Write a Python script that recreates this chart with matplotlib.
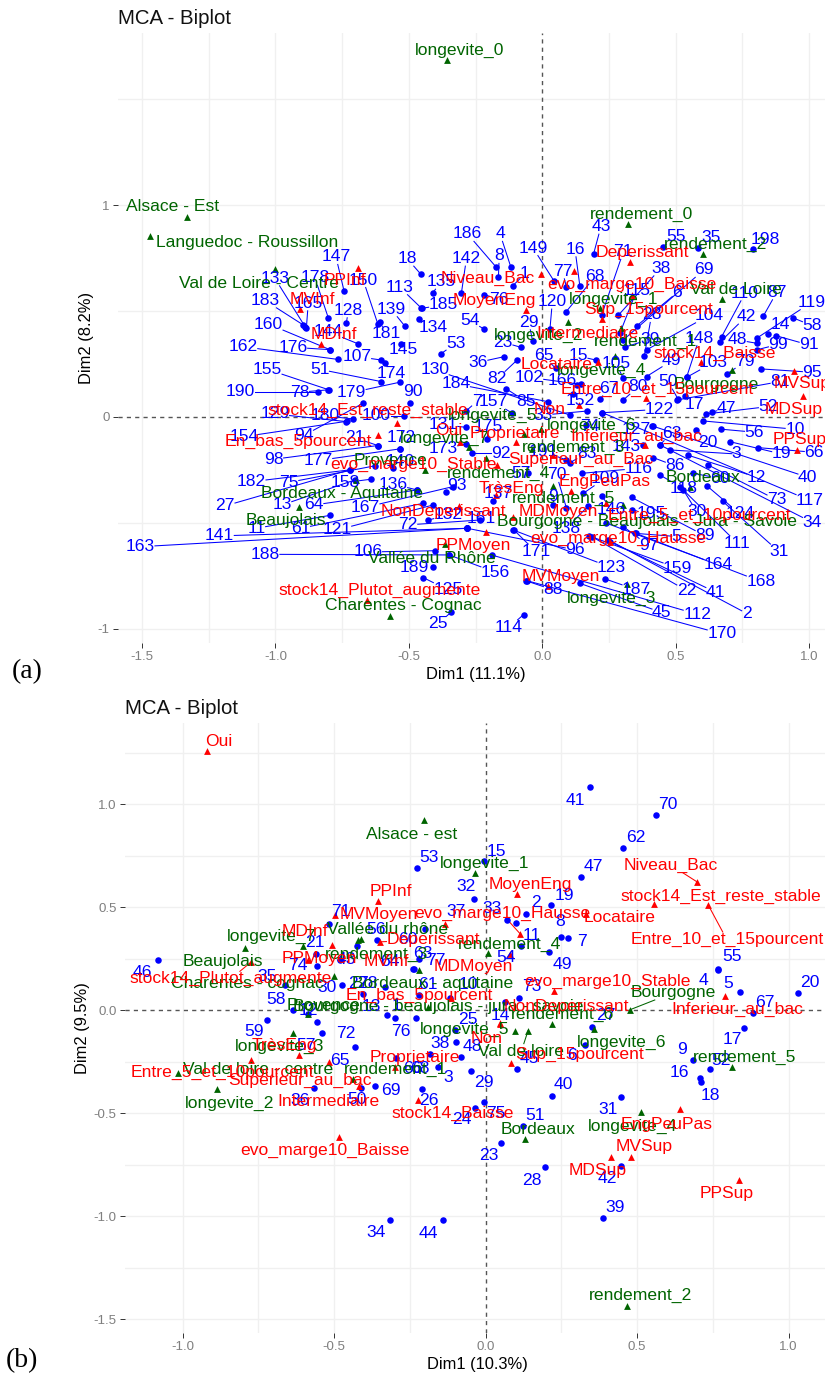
import matplotlib
matplotlib.use("Agg")
import matplotlib.pyplot as plt

# ---- panel (a) individuals: point then label position, data units
ind_a_names = ['147','150','133','178','183','165','128','160','139','113',
    '18','181','144','186','4','8','142','1','135','76',
    '149','77','16','43','68','120','29','54','23','53',
    '134','185','55','35','198','71','38','115','6','69',
    '28','110','87','42','104','119','14','58','148','48',
    '99','91','39','36','82','65','15','105','49','103',
    '79','102','166','130','184','7','157','85','33','152',
    '67','80','50','122','17','47','52','10','56','19',
    '66','3','20','40','117','12','73','34','86','118',
    '60','30','124','111','31','89','195','5','97','164',
    '168','159','123','22','41','2','112','187','45','170',
    '88','114','25','125','189','156','171','96','138','146',
    '161','137','93','92','173','131','175','9','70','57',
    '109','116','83','191','74','127','63','143','81','95',
    '132','162','176','107','145','51','174','155','190','78',
    '179','90','129','180','100','154','94','21','172','98',
    '177','140','182','75','158','136','27','13','64','167',
    '11','61','121','72','141','163','188','106']
ind_a_x = [-.743,-.616,-.889,-.802,-.896,-.884,-.734,-.796,-.516,-.452,
    -.456,-.609,-.689,-.174,-.118,-.164,-.303,-.111,-.411,-.219,
    .044,.091,.141,.193,.089,.029,-.036,-.219,-.08,-.38,
    -.461,-.453,.451,.583,.791,.223,.285,.291,.355,.304,
    .383,.673,.829,.666,.391,.804,.848,.939,.541,.804,
    .804,.876,.31,-.142,-.094,.05,.2,.304,.391,.541,
    .691,.144,.129,.104,.022,-.284,-.115,-.134,.169,.116,
    .216,.304,.508,.226,.535,.635,.614,.604,.672,.704,
    .81,.479,.576,.414,.226,.545,.622,.441,.416,.441,
    .564,.529,.616,.516,.676,.335,.335,.349,.304,.241,
    .351,.176,-.109,.185,.254,.248,-.19,.235,.141,-.059,
    -.056,-.07,-.34,-.446,-.409,-.349,-.106,-.281,.173,.223,
    -.281,-.186,-.359,-.265,-.284,-.284,-.206,.041,.091,-.053,
    .154,.151,.104,.091,.166,.41,.441,.379,.504,.82,
    -.427,-.767,-.796,-.603,-.53,-.603,-.59,-.799,-.84,-.803,
    -.534,-.494,-.734,-.711,-.519,-.73,-.671,-.616,-.534,-.616,
    -.534,-.559,-.721,-.628,-.64,-.469,-.721,-.703,-.469,-.334,
    -.796,-.446,-.409,-.234,-.281,-.281,-.349,-.4]
ind_a_y = [.597,.439,.427,.469,.435,.419,.446,.318,.431,.513,
    .676,.45,.345,.71,.71,.663,.584,.619,.584,.578,
    .643,.613,.62,.772,.496,.414,.359,.416,.329,.298,
    .461,.513,.802,.8,.792,.482,.48,.395,.431,.364,
    .29,.38,.477,.353,.317,.372,.392,.469,.187,.348,
    .317,.384,.33,.285,.269,.23,.269,.183,.191,.187,
    .202,.154,.151,.009,.072,.03,.02,.132,.028,.109,
    .083,.08,.087,.02,.099,.024,.014,-.019,-.058,-.117,
    -.145,-.156,-.061,-.043,.02,-.18,-.227,-.132,-.192,-.274,
    -.266,-.345,-.324,-.329,-.398,-.38,-.439,-.55,-.518,-.502,
    -.55,-.562,-.534,-.565,-.589,-.581,-.652,-.765,-.786,-.773,
    -.776,-.934,-.92,-.759,-.707,-.652,-.534,-.526,-.42,-.373,
    -.526,-.397,-.353,-.172,-.128,-.049,-.106,-.416,-.431,-.266,
    -.361,-.266,-.216,-.203,-.038,-.043,-.132,-.132,.08,.227,
    -.487,.272,.318,.269,.345,.167,.257,.128,.12,.128,
    .164,.068,-.022,-.009,.005,-.02,.065,-.135,-.151,-.135,
    -.151,-.243,-.25,-.231,-.294,-.345,-.25,-.298,-.345,-.329,
    -.465,-.408,-.416,-.487,-.526,-.526,-.652,-.632]
ind_a_lx = [-.773,-.671,-1.002,-.852,-1.04,-.877,-.726,-1.026,-.566,-.534,
    -.506,-.584,-.803,-.28,-.158,-.161,-.284,-.065,-.38,-.161,
    -.034,.076,.123,.22,.198,.038,-.05,-.271,-.146,-.324,
    -.409,-.371,.501,.633,.836,.304,.444,.354,.506,.606,
    .41,.76,.879,.764,.626,1.01,.894,1.012,.589,.732,
    .885,1.0,.404,-.24,-.169,.006,.135,.276,.486,.641,
    .76,-.049,.076,-.403,-.324,-.246,-.184,-.059,.004,.141,
    .25,.36,.472,.439,.572,.691,.847,.947,.795,.897,
    1.019,.729,.622,.995,1.004,.804,.879,1.012,.498,.531,
    .666,.579,.741,.732,.887,.61,.41,.504,.4,.66,
    .82,.508,.26,.541,.65,.766,.581,.354,.448,.673,
    .041,-.124,-.39,-.353,-.478,-.175,-.024,.123,.091,.26,
    -.228,-.165,-.321,-.155,-.371,-.371,-.203,.041,.054,-.078,
    .235,.36,.166,.004,.179,.354,.485,.316,.891,1.012,
    -.352,-1.121,-.934,-.694,-.521,-.834,-.565,-1.03,-1.13,-.909,
    -.715,-.484,-1.002,-.815,-.621,-1.118,-.894,-.703,-.528,-1.006,
    -.84,-.534,-1.09,-.949,-.74,-.559,-1.188,-.975,-.855,-.663,
    -1.071,-.905,-.769,-.503,-1.209,-1.506,-1.038,-.653]
ind_a_ly = [.756,.647,.655,.658,.551,.537,.504,.439,.509,.613,
    .748,.392,.403,.865,.865,.761,.748,.676,.639,.557,
    .798,.688,.792,.899,.663,.545,.447,.455,.353,.348,
    .424,.529,.852,.849,.839,.78,.702,.597,.588,.695,
    .482,.584,.589,.474,.48,.542,.439,.431,.372,.364,
    .343,.34,.367,.258,.18,.288,.288,.254,.266,.257,
    .261,.187,.17,.222,.156,.072,.072,.072,.009,.08,
    .135,.143,.167,.036,.061,.038,.049,-.058,-.072,-.175,
    -.167,-.175,-.121,-.285,-.395,-.285,-.392,-.498,-.231,-.34,
    -.29,-.447,-.458,-.597,-.636,-.561,-.458,-.565,-.608,-.699,
    -.778,-.715,-.712,-.82,-.828,-.928,-.932,-.817,-.924,-1.025,
    -.817,-.994,-.978,-.817,-.71,-.734,-.636,-.628,-.526,-.439,
    -.482,-.361,-.324,-.172,-.151,-.038,-.043,-.376,-.274,-.266,
    -.29,-.243,-.172,-.164,-.043,-.061,-.077,-.14,.167,.211,
    -.463,.332,.329,.285,.317,.225,.203,.225,.12,.117,
    .115,.12,.014,.005,.005,-.093,-.088,-.098,-.098,-.2,
    -.206,-.211,-.306,-.309,-.31,-.317,-.42,-.416,-.416,-.427,
    -.526,-.526,-.534,-.51,-.562,-.613,-.649,-.638]

# ---- panel (a) variables
green_a_names = ['Alsace - Est','Languedoc - Roussillon','Val de Loire - Centre','longevite_0',
    'rendement_0','rendement_2','Val de Loire','longevite_1','longevite_2','rendement_1',
    'longevite_4','Bourgogne','longevite_5','longevite_6','longevite_7','Provence',
    'rendement_4','rendement_3','rendement_5','Bordeaux',
    'Bourgogne - Beaujolais - Jura - Savoie','Bordeaux - Aquitaine','Beaujolais',
    'Vallée du Rhône','Charentes - Cognac','longevite_3']
green_a_x = [-1.332,-1.469,-1.002,-.356,.322,.603,.675,.216,.098,.294,.273,.71,-.069,-.003,
    -.274,-.44,-.209,-.04,.039,.554,.304,-.911,-.699,-.365,-.569,.316]
green_a_y = [.946,.857,.698,1.687,.912,.769,.556,.513,.45,.419,.29,.222,-.082,-.058,
    -.14,-.25,-.195,-.153,-.324,-.329,-.416,-.427,-.298,-.6,-.939,-.791]
green_a_lx = [-1.386,-1.106,-1.061,-.311,.372,.651,.726,.266,-.015,.389,.223,.654,-.184,.185,
    -.365,-.569,-.165,.116,.081,.604,.394,-.752,-.959,-.412,-.522,.26]
green_a_ly = [.992,.825,.631,1.731,.956,.813,.603,.557,.387,.356,.222,.154,.005,-.038,
    -.101,-.206,-.266,-.143,-.387,-.285,-.494,-.361,-.491,-.668,-.893,-.857]

red_a_names = ['PPInf','MVInf','MDInf','Niveau_Bac','Deperissant','evo_marge10_Baisse','MoyenEng',
    'Sup_15pourcent','Intermediaire','Locataire','stock14_Baisse','Entre_10_et_15pourcent',
    'MVSup','MDSup','PPSup','Non','stock14_Est_reste_stable','En_bas_5pourcent','Oui',
    'Proprietaire','Inferieur_au_bac','Superieur_au_Bac','evo_marge10_Stable','EngPeuPas',
    'TrèsEng','NonDeperissant','MDMoyen','Entre_5_et_10pourcent','evo_marge10_Hausse',
    'PPMoyen','MVMoyen','stock14_Plutot_augmente']
red_a_x = [-.692,-.909,-.83,-.005,.329,.119,-.059,.335,.223,.21,.595,.389,.945,.976,.954,.139,
    -.544,-.616,-.309,-.1,.385,.041,-.169,.108,-.174,-.31,-.109,.239,.254,-.211,.022,-.656]
red_a_y = [.706,.512,.345,.676,.734,.69,.506,.576,.463,.258,.258,.088,.219,.099,-.156,.057,
    -.03,-.087,-.117,-.117,-.132,-.18,-.227,-.35,-.369,-.42,-.471,-.405,-.589,-.545,-.797,-.865]
red_a_lx = [-.74,-.862,-.78,-.203,.376,.338,-.181,.398,.17,.054,.648,.433,.973,.941,.966,.029,
    -.652,-.914,-.352,-.103,.354,.144,-.484,.233,-.115,-.369,.06,.591,.285,-.259,.07,-.609]
red_a_ly = [.644,.556,.391,.655,.778,.627,.548,.51,.392,.249,.301,.132,.156,.033,-.106,.036,
    .03,-.117,-.065,-.077,-.093,-.203,-.222,-.306,-.337,-.446,-.447,-.466,-.576,-.605,-.754,-.82]

# ---- panel (b) individuals
ind_b_names = ['41','70','62','47','15','53','32','19','2','33',
    '11','8','7','49','54','55','4','5','20','67',
    '37','73','10','61','63','77','14','27','25','17',
    '46','21','74','71','56','60','43','64','30','22',
    '35','58','12','59','72','57','76','1','78','13',
    '65','69','34','50','36','66','38','48','3','68',
    '45','6','9','52','16','18','29','26','40','31',
    '51','75','24','23','28','42','39','44']
ind_b_x = [.346,.562,.455,.315,-.005,-.227,-.038,.215,.134,.07,
    .101,.249,.271,.209,.118,.767,.767,.841,1.031,.881,
    -.201,.109,-.119,-.22,-.22,-.238,.063,.352,-.102,.853,
    -1.082,-.56,-.556,-.516,-.36,-.424,-.481,-.236,-.474,-.404,
    -.663,-.637,-.586,-.72,-.54,-.558,-.298,-.327,-.333,-.229,
    -.432,-.366,-.314,-.41,-.567,-.295,-.097,-.08,-.157,-.182,
    .103,.329,.684,.741,.708,.711,-.049,-.209,.219,.448,
    .125,-.005,-.034,.052,.197,.446,.389,-.141]
ind_b_y = [1.086,.947,.788,.646,.725,.693,.54,.51,.469,.437,
    .424,.356,.353,.282,.311,.202,.196,.089,.084,-.013,
    .396,.061,.061,.073,.251,.202,.04,-.081,-.097,-.086,
    .243,.275,.214,.421,.34,.311,.243,.199,.121,.078,
    .121,0,-.019,-.049,-.11,-.055,-.04,-.024,.113,-.036,
    -.178,-.369,-1.018,-.38,-.38,-.23,-.154,-.227,-.275,-.214,
    -.286,-.17,-.243,-.286,-.327,-.35,-.295,-.382,-.417,-.421,
    -.563,-.445,-.473,-.647,-.762,-.756,-1.01,-1.021]
ind_b_lx = [.296,.602,.497,.356,.037,-.187,-.064,.26,.167,.022,
    .153,.246,.318,.255,.068,.812,.72,.799,1.071,.923,
    -.097,.154,-.058,-.19,-.207,-.165,.048,.398,-.058,.813,
    -1.132,-.564,-.619,-.476,-.36,-.256,-.459,-.316,-.523,-.421,
    -.72,-.69,-.586,-.764,-.462,-.591,-.278,-.295,-.388,-.377,
    -.481,-.314,-.363,-.424,-.613,-.24,-.149,-.044,-.124,-.218,
    .145,.285,.647,.777,.64,.741,-.004,-.188,.258,.403,
    .164,.035,-.078,.011,.154,.401,.427,-.188]
ind_b_ly = [1.018,.998,.837,.697,.772,.741,.599,.558,.521,.494,
    .364,.432,.332,.222,.254,.262,.142,.129,.133,.036,
    .477,.113,.126,.126,.275,.239,-.024,-.024,-.045,-.142,
    .181,.328,.218,.477,.392,.343,.246,.235,.108,.129,
    .162,.052,-.003,-.105,-.113,-.17,-.102,.024,.129,.016,
    -.246,-.388,-1.079,-.432,-.44,-.283,-.162,-.178,-.328,-.283,
    -.234,-.218,-.189,-.246,-.301,-.413,-.353,-.44,-.361,-.482,
    -.513,-.502,-.531,-.708,-.825,-.817,-.958,-1.084]

# ---- panel (b) variables
green_b_names = ['Alsace - est','longevite_1','Vallée du rhône','rendement_3','rendement_4','longevite_7',
    'Beaujolais','Charentes - cognac','Bordeaux - aquitaine','Bourgogne','Provence',
    'Bourgogne - beaujolais - jura - savoie','longevite_5','rendement_6','Val de loire','longevite_6',
    'rendement_5','longevite_4','Bordeaux','rendement_2','longevite_3','rendement_1',
    'Val de loire - centre','longevite_2']
green_b_x = [-.202,-.036,-.41,-.42,.008,-.795,-.604,-.5,-.22,.478,-.586,-.19,.098,.22,.14,.359,
    .813,.513,.129,.467,-.635,-.437,-1.014,-.888]
green_b_y = [.926,.668,.348,.34,.28,.303,.312,.168,.197,.003,-.019,.016,-.1,-.065,-.1,-.089,
    -.275,-.494,-.626,-1.435,-.11,-.332,-.303,-.385]
green_b_lx = [-.245,-.003,-.325,-.36,.079,-.707,-.868,-.787,-.174,.621,-.536,-.157,-.069,.253,.118,.449,
    .854,.486,.173,.51,-.679,-.298,-.75,-.846]
green_b_ly = [.854,.712,.393,.272,.319,.359,.235,.129,.129,.086,.024,.016,-.092,-.019,-.199,-.157,
    -.23,-.563,-.58,-1.387,-.178,-.29,-.29,-.453]

red_b_names = ['Oui','PPInf','MDInf','MVMoyen','evo_marge10_Hausse','Deperissant','PPMoyen','MVInf',
    'stock14_Plutot_augmente','En_bas_5pourcent','MoyenEng','Niveau_Bac','stock14_Est_reste_stable',
    'Locataire','Entre_10_et_15pourcent','evo_marge10_Stable','MDMoyen','NonDeperissant',
    'Inferieur_au_bac','Non','Sup_15pourcent','Proprietaire','TrèsEng','Entre_5_et_10pourcent',
    'Superieur_au_bac','stock14_Baisse','Intermediaire','evo_marge10_Baisse','EngPeuPas','MVSup',
    'MDSup','PPSup']
red_b_x = [-.918,-.356,-.507,-.498,.114,-.349,-.586,-.135,-.773,-.115,.103,.698,.557,.332,.735,.227,
    .079,.046,.791,.046,.085,-.3,-.615,-.773,-.418,-.223,-.518,-.485,.642,.48,.415,.837]
red_b_y = [1.257,.531,.319,.46,.371,.332,.243,.417,.235,.061,.566,.623,.518,.466,.51,.092,
    .275,-.063,.07,-.065,-.256,-.275,-.218,-.24,-.369,-.434,-.25,-.615,-.482,-.711,-.712,-.827]
red_b_lx = [-.879,-.311,-.595,-.353,.054,-.173,-.549,-.327,-.841,-.219,.148,.612,.777,.442,.796,.403,
    -.04,.268,.832,.004,.31,-.232,-.663,-.868,-.613,-.108,-.52,-.531,.596,.522,.37,.797]
red_b_ly = [1.303,.578,.383,.464,.469,.343,.251,.235,.152,.073,.612,.704,.555,.448,.343,.142,
    .21,.019,.003,-.138,-.215,-.23,-.17,-.3,-.343,-.502,-.445,-.68,-.553,-.66,-.78,-.89]
red_b_linked = ['evo_marge10_Hausse','Deperissant','stock14_Plutot_augmente','Niveau_Bac',
    'Entre_10_et_15pourcent']
green_b_linked = ['Bourgogne','Val de loire']

BLUE = '#0000FF'
RED = '#FF0000'
GREEN = '#006400'
FW, FH = 825, 1374

plt.rcParams['font.family'] = ['Liberation Sans', 'DejaVu Sans']
fig = plt.figure(figsize=(FW / 100, FH / 100), dpi=100)


def link(ax, txt, px, py, color, min_px):
    # ggrepel style segment, from the edge of the label to its point
    box = txt.get_window_extent(fig.canvas.get_renderer())
    cx, cy = (box.x0 + box.x1) / 2, (box.y0 + box.y1) / 2
    x, y = ax.transData.transform((px, py))
    dx, dy = x - cx, y - cy
    t = 9.0
    if dx != 0:
        t = min(t, box.width / 2 / abs(dx))
    if dy != 0:
        t = min(t, box.height / 2 / abs(dy))
    if t >= 1 or (1 - t) * (dx ** 2 + dy ** 2) ** .5 < min_px:
        return
    sx, sy = ax.transData.inverted().transform((cx + t * dx, cy + t * dy))
    ax.plot([sx, px], [sy, py], color=color, lw=.75, zorder=2, clip_on=False)


def group(ax, names, x, y, lx, ly, color, marker, size, linked=None, min_px=4):
    ax.scatter(x, y, s=size, c=color, marker=marker, linewidths=0, zorder=3, clip_on=False)
    for i, name in enumerate(names):
        t = ax.text(lx[i], ly[i], name, color=color, fontsize=12.6, ha='center', va='center',
                    zorder=4, clip_on=False)
        if linked is None or name in linked:
            link(ax, t, x[i], y[i], color, min_px)


def panel(box, xlim, ylim, xticks, yticks, xgrid, ygrid, xlab, ylab, ylab_x, xlab_pos):
    left, top, right, bottom = box
    ax = fig.add_axes([left / FW, 1 - bottom / FH, (right - left) / FW, (bottom - top) / FH])
    ax.set_xlim(xlim)
    ax.set_ylim(ylim)
    for s in ax.spines.values():
        s.set_visible(False)
    ax.set_axisbelow(True)
    for g in xgrid:
        ax.axvline(g, color='#F0F0F0', lw=1, zorder=0)
    for g in ygrid:
        ax.axhline(g, color='#F0F0F0', lw=1, zorder=0)
    ax.axhline(0, color='#555555', lw=1, ls=(0, (3, 3)), zorder=1)
    ax.axvline(0, color='#555555', lw=1, ls=(0, (3, 3)), zorder=1)
    ax.set_xticks(xticks, [f'{v:.1f}' for v in xticks])
    ax.set_yticks(yticks)
    ax.tick_params(length=3.5, width=.7, color='#333333', labelcolor='#7F7F7F', labelsize=9.5, pad=2.5)
    ax.set_title('MCA - Biplot', loc='left', fontsize=14.7, color='#111111', pad=6.5)
    fig.text(xlab_pos[0] / FW, 1 - xlab_pos[1] / FH, xlab, fontsize=11.9, ha='center', va='center')
    fig.text(ylab_x / FW, 1 - (top + bottom) / 2 / FH, ylab, fontsize=11.9, rotation=90,
             ha='center', va='center')
    return ax


ax_a = panel((118, 33, 825, 643), (-1.59, 1.06), (-1.068, 1.814),
             [-1.5, -1.0, -.5, 0, .5, 1.0], [-1, 0, 1],
             [-1.5, -1.25, -1.0, -.75, -.5, -.25, .25, .5, .75, 1.0],
             [-1, -.5, .5, 1, 1.5], 'Dim1 (11.1%)', 'Dim2 (8.2%)', 87, (476, 674))
ax_a.set_yticklabels(['-1', '0', '1'])
group(ax_a, ind_a_names, ind_a_x, ind_a_y, ind_a_lx, ind_a_ly, BLUE, 'o', 22)
group(ax_a, green_a_names, green_a_x, green_a_y, green_a_lx, green_a_ly, GREEN, '^', 24, linked=[])
group(ax_a, red_a_names, red_a_x, red_a_y, red_a_lx, red_a_ly, RED, '^', 24, linked=[])

ax_b = panel((125, 723, 825, 1333), (-1.19, 1.12), (-1.568, 1.395),
             [-1.0, -.5, 0, .5, 1.0], [-1.5, -1.0, -.5, 0, .5, 1.0],
             [-1.0, -.75, -.5, -.25, .25, .5, .75, 1.0],
             [-1.5, -1.25, -1.0, -.75, -.5, -.25, .25, .5, .75, 1.0, 1.25],
             'Dim1 (10.3%)', 'Dim2 (9.5%)', 82, (477, 1364))
ax_b.set_yticklabels(['-1.5', '-1.0', '-0.5', '0.0', '0.5', '1.0'])
group(ax_b, ind_b_names, ind_b_x, ind_b_y, ind_b_lx, ind_b_ly, BLUE, 'o', 22, linked=[])
group(ax_b, green_b_names, green_b_x, green_b_y, green_b_lx, green_b_ly, GREEN, '^', 24, linked=green_b_linked)
group(ax_b, red_b_names, red_b_x, red_b_y, red_b_lx, red_b_ly, RED, '^', 24, linked=red_b_linked)

# panel letters
fig.text(27 / FW, 1 - 672 / FH, '(a)', family='Liberation Serif', fontsize=20, ha='center', va='center')
fig.text(22 / FW, 1 - 1361 / FH, '(b)', family='Liberation Serif', fontsize=20, ha='center', va='center')

fig.savefig('out.png', dpi=100)
